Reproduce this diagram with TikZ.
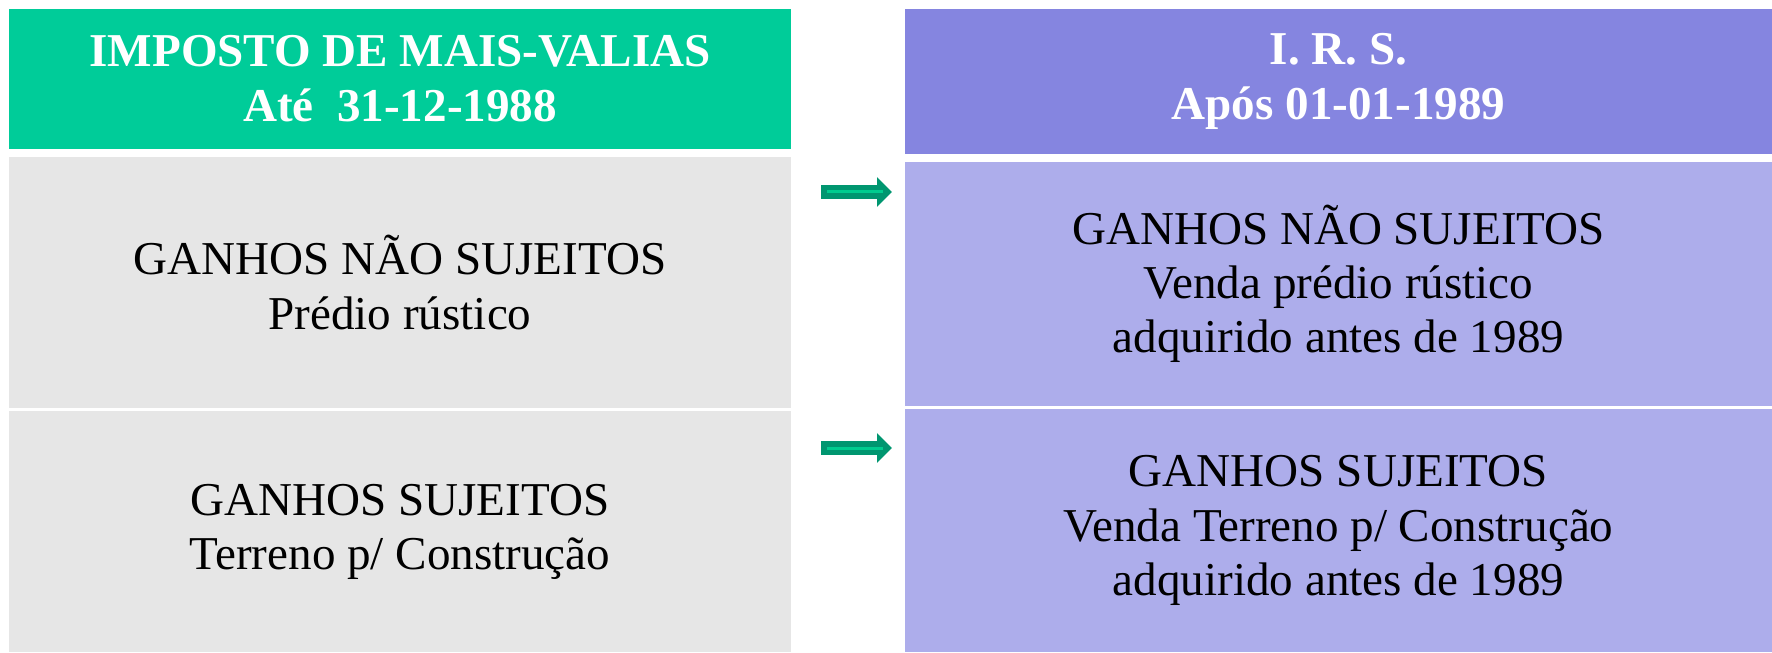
\documentclass[tikz,border=0pt]{standalone}
\usepackage{fontspec}
\setmainfont{Liberation Serif}
\usepackage{tikz}
\usetikzlibrary{calc}
\usetikzlibrary{arrows.meta, positioning}

\definecolor{hdrgreen}{HTML}{00CC99}
\definecolor{hdrpurple}{HTML}{8585E0}
\definecolor{boxpurple}{HTML}{ADADEB}
\definecolor{boxgray}{HTML}{E6E6E6}
\definecolor{arrowdark}{HTML}{009670}
\definecolor{arrowlight}{HTML}{00CC8F}

\begin{document}
\begin{tikzpicture}[
	txt/.style={inner sep=0pt,align=center,font=\fontsize{13.4}{15.4}\selectfont},
	header/.style={txt,text=white,font=\fontsize{13.4}{15.6}\selectfont\bfseries},
	blockarrow/.style={draw=arrowdark,line width=0.14cm,-{Triangle[width=0.29cm,length=0.15cm]}},
	innerline/.style={draw=arrowlight,line width=0.03cm,shorten <=0.06cm,shorten >=0.09cm}
]
	\useasboundingbox (0,0) rectangle (17.72,6.52);
	
	% Left column
	\node (hdrL) at (4.00,5.73) [header,fill=hdrgreen,minimum width=7.82cm,minimum height=1.40cm] {IMPOSTO DE MAIS-VALIAS\\Até~ 31-12-1988};
	\node (freeL) at (4.00,3.695) [txt,fill=boxgray,minimum width=7.82cm,minimum height=2.51cm] {GANHOS NÃO SUJEITOS\\Prédio rústico};
	\node (taxL) at (4.00,1.205) [txt,fill=boxgray,minimum width=7.82cm,minimum height=2.41cm] {GANHOS SUJEITOS\\Terreno p/ Construção};
	
	% Right column
	\node (hdrR) at (13.385,5.705) [header,fill=hdrpurple,minimum width=8.67cm,minimum height=1.45cm] {I. R. S.\\Após 01-01-1989};
	\node (freeR) at (13.385,3.68) [txt,fill=boxpurple,minimum width=8.67cm,minimum height=2.44cm] {GANHOS NÃO SUJEITOS\\Venda prédio rústico\\adquirido antes de 1989};
	\node (taxR) at (13.385,1.215) [txt,fill=boxpurple,minimum width=8.67cm,minimum height=2.43cm] {GANHOS SUJEITOS\\Venda Terreno p/ Construção\\adquirido antes de 1989};
	
	% Arrows
	\coordinate (freeFrom) at (8.21,4.60);
	\coordinate (freeTo) at (8.92,4.60);
	\coordinate (taxFrom) at (8.21,2.04);
	\coordinate (taxTo) at (8.92,2.04);
	\draw[blockarrow] (freeFrom) -- (freeTo);
	\draw[innerline] (freeFrom) -- (freeTo);
	\draw[blockarrow] (taxFrom) -- (taxTo);
	\draw[innerline] (taxFrom) -- (taxTo);
\end{tikzpicture}
\end{document}
